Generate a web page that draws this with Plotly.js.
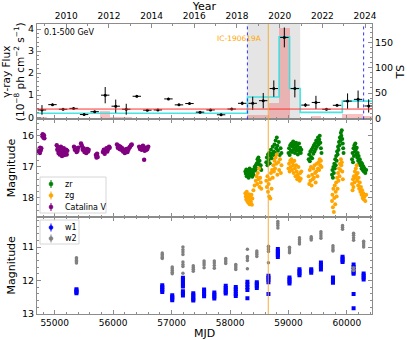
<!DOCTYPE html>
<html>
<head>
<meta charset="utf-8">
<script src="https://cdn.plot.ly/plotly-3.0.1.min.js"></script>
<style>html,body{margin:0;padding:0;background:#fff;}#chart{width:407px;height:340px;}</style>
</head>
<body>
<div id="chart"></div>
<script>
// ---------------- DATA ----------------
// Fermi-LAT 6-month bins (MJD centre, flux 1e-8 ph cm^-2 s^-1, 1-sigma error)
const fluxMjd = [54782,54962,55143,55323,55503,55684,55864,56044,56224,56405,56585,56765,56946,57126,57306,57487,
                 57667,57847,58028,58208,58388,58568,58749,58929,59109,59290,59470,59650,59831,60011,60191,60372];
const flux    = [0.33,0.57,0.36,0.40,0.12,0.25,1.00,0.50,0.36,0.95,0.32,0.33,0.83,0.56,0.62,0.23,
                 0.33,0.11,0.37,0.63,0.63,0.75,1.30,3.62,1.30,0.55,0.67,0.36,0.54,0.73,0.81,0.51];
const fluxErr = [0.22,0.05,0.05,0.05,0.05,0.05,0.37,0.30,0.25,0.05,0.05,0.05,0.05,0.05,0.05,0.05,
                 0.05,0.05,0.05,0.08,0.30,0.35,0.37,0.45,0.40,0.08,0.30,0.05,0.05,0.35,0.40,0.30];
const binHalfWidth = 72;   // days
// TS of bins (only bins where TS bar is visible)
const tsMjd = [54782,55864,56044,56224,58388,58568,58749,58929,59470,60011,60191,60372];
const tsVal = [3,14,2,2,6,6,31,180,5,8,8,5];
// Bayesian-block flux levels
const blockEdges = [54692,58298,58839,59019,59200,59921,60462];
const blockFlux  = [0.18,0.92,3.65,1.30,0.22,0.73];
const meanFlux = 0.37;
// time markers
const icMjd = 58654;              // IC-190619A
const windowStart = 58297, windowEnd = 59200;   // shaded window
const dashedMjd = [58297, 60286];

// ZTF zr
const zrMjd = [58262,58270,58278,58285,58292,58300,58310,58318,58326,58335,58343,58352,58360,58370,58380,58390,58400,58410,58420,58430,58440,58450,58460,58470,58478,58486,58495,58505,58515,58525,58535,
 58620,58630,58640,58650,58660,58670,58680,58690,58700,58710,58720,58730,58740,58750,58760,58770,58780,58790,58800,58810,58820,58835,58850,58865,58880,
 59000,59010,59020,59030,59040,59050,59060,59070,59080,59090,59100,59110,59120,59130,59140,59150,59160,59170,59180,59190,59200,59210,59220,
 59345,59355,59365,59375,59385,59395,59405,59415,59425,59435,59445,59455,59465,59475,59485,59495,59505,59515,59525,59535,59545,59555,59565,
 59745,59752,59760,59768,59776,59784,59792,59800,59808,59816,59824,59832,59840,59848,59856,59864,59872,59880,59888,59896,59904,59912,59920,59928,59936,59942,
 60088,60096,60104,60112,60120,60128,60136,60144,60152,60160,60168,60176,60184,60192,60200,60210,60220,60230,60240,60250,60260,60270,60280,60290,60300,60315,60330];
const zrMag = [17.15,17.22,17.08,17.30,17.18,17.25,17.12,17.35,17.20,17.05,17.28,17.15,17.22,17.10,17.32,17.18,17.25,17.08,17.00,17.12,16.95,17.05,16.88,16.75,16.85,16.70,16.92,16.80,17.05,16.95,17.10,
 16.85,16.70,16.95,16.60,16.78,16.55,16.88,16.65,16.45,16.72,16.58,16.35,16.62,16.50,16.28,16.55,16.15,16.40,16.05,16.32,16.48,16.20,16.62,16.40,16.55,
 16.55,16.40,16.62,16.30,16.48,16.25,16.52,16.35,16.18,16.45,16.28,16.55,16.38,16.22,16.48,16.32,16.60,16.42,16.25,16.50,16.38,16.55,16.45,
 16.75,16.60,16.82,16.50,16.68,16.45,16.72,16.38,16.58,16.30,16.50,16.25,16.42,16.15,16.35,16.20,16.05,16.28,16.12,16.00,16.22,16.40,16.55,
 17.25,17.10,17.35,17.00,17.20,16.90,17.05,16.75,16.95,16.65,16.80,16.50,16.60,16.35,16.45,16.20,16.30,16.05,16.15,15.90,16.00,15.82,16.10,16.25,16.40,16.55,
 16.75,16.55,16.85,16.40,16.65,16.30,16.50,16.25,16.45,16.60,16.38,16.70,16.55,16.80,16.65,16.90,16.75,16.95,16.85,17.05,16.90,17.10,16.98,17.15,17.05,17.20,17.10];
// ZTF zg
const zgMjd = [58262,58270,58278,58286,58294,58302,58310,58318,58326,58334,58342,58350,58358,58366,58374,58382,58400,58420,58440,58455,58465,58475,58485,58495,58505,58515,58525,58535,
 58620,58630,58640,58650,58660,58670,58680,58690,58700,58710,58720,58730,58740,58750,58760,58770,58780,58790,58800,58810,58825,58840,58855,58870,58880,
 59000,59010,59020,59030,59040,59050,59060,59070,59080,59090,59100,59110,59120,59130,59140,59150,59160,59170,59180,59190,59200,59210,59220,
 59345,59355,59365,59375,59385,59395,59405,59415,59425,59435,59445,59455,59465,59475,59485,59495,59505,59515,59525,59535,59545,59555,59565,
 59745,59752,59760,59768,59776,59784,59792,59800,59808,59816,59824,59832,59840,59848,59856,59864,59872,59880,59888,59896,59904,59912,59920,59930,
 60088,60096,60104,60112,60120,60128,60136,60144,60152,60160,60168,60176,60184,60192,60200,60210,60220,60230,60240,60250,60260,60270,60280,60290,60300,60315,60330];
const zgMag = [17.85,17.95,18.05,17.80,18.10,17.92,18.15,18.00,17.88,18.20,18.05,17.95,18.12,17.90,18.22,18.02,17.75,17.60,17.45,17.30,17.55,17.20,17.40,17.05,17.65,17.35,17.50,17.70,
 17.45,17.65,17.30,17.80,17.55,17.95,17.40,18.02,17.20,17.70,17.10,17.35,16.95,17.15,16.80,17.05,16.70,16.90,16.60,17.25,16.85,17.10,16.75,17.20,16.95,
 17.05,16.90,17.15,16.80,17.00,16.75,17.10,16.85,16.95,17.20,16.80,17.05,17.30,16.95,17.15,17.40,17.25,17.00,17.35,17.45,17.20,17.38,17.15,
 17.30,17.55,17.10,17.45,17.00,17.60,17.25,17.40,17.05,17.35,16.95,17.20,17.50,17.15,16.90,17.30,17.05,16.85,17.10,16.75,16.95,16.80,17.00,
 18.10,17.90,18.30,17.70,18.45,18.00,17.60,18.20,17.80,17.50,17.95,17.35,17.70,17.20,17.45,17.05,17.30,16.90,17.10,16.75,16.95,16.85,17.15,17.40,
 17.55,17.75,17.40,17.65,17.30,17.50,17.15,17.35,17.05,17.25,16.95,17.45,17.20,17.60,17.35,17.70,17.50,17.80,17.65,17.90,17.75,18.00,17.85,18.05,17.95,18.10,17.90];
// Catalina V
const crtsMjd = [54730,54738,54745,54752,54760,54770,54785,54795,54805,54815,54822,
 55035,55045,55055,55065,55075,55085,55095,55105,55115,55125,55135,55145,55155,55165,55175,55185,55195,55205,55215,
 55330,55345,55360,55375,55390,55405,55450,55465,55480,55495,55510,55525,55540,55555,55570,55580,
 55705,55715,55725,55735,55825,55840,55855,55870,55885,55900,55915,55930,55940,
 56065,56080,56095,56110,56125,56140,56155,56170,56185,56200,56215,56230,56245,56260,56275,56290,56305,56318,
 56445,56460,56475,56488,56510,56525,56540,56555,56570,56585,56600,56530];
const crtsMag = [16.50,16.42,16.55,16.38,16.47,16.40,16.00,15.95,16.05,15.98,16.08,
 16.30,16.45,16.38,16.55,16.42,16.60,16.48,16.35,16.52,16.65,16.45,16.58,16.40,16.62,16.50,16.55,16.45,16.60,16.48,
 16.35,16.45,16.40,16.52,16.48,16.38,16.25,16.32,16.45,16.40,16.52,16.48,16.55,16.42,16.50,16.45,
 16.62,16.70,16.58,16.68,16.52,16.45,16.58,16.48,16.40,16.50,16.42,16.35,16.38,
 16.28,16.38,16.32,16.42,16.35,16.45,16.40,16.50,16.45,16.55,16.48,16.42,16.52,16.45,16.38,16.35,16.30,16.28,
 16.35,16.42,16.38,16.45,16.32,16.40,16.48,16.38,16.45,16.42,16.35,16.77];
// WISE epochs and per-exposure magnitudes
const wiseEpoch = [55372,56840,57011,57194,57371,57556,57731,57926,58098,58297,58458,58657,58818,59017,59188,59389,59555,59761,59925,60114,60286];
const w1Mag = [[12.26,12.30,12.34,12.38],[12.14,12.19,12.24,12.29,12.34],[12.44,12.49,12.54,12.59],[11.92,11.98,12.05,12.12,12.18,12.32,12.38,12.45],
 [12.38,12.44,12.50,12.56,12.60],[12.27,12.33,12.40,12.47],[12.36,12.42,12.48,12.54],[12.16,12.22,12.28,12.34,12.39],[12.19,12.26,12.33,12.40,12.46],
 [12.04,12.12,12.20,12.28,12.53],[12.05,12.10,12.16,12.22],[11.86,11.92,11.98,12.05,12.40],[11.06,11.12,11.18,11.24,11.30],[11.91,11.97,12.03,12.09],
 [11.66,11.72,11.78,11.84],[11.66,11.71,11.77],[11.46,11.53,11.60,11.67],[11.91,11.97,12.03,12.07],[11.29,11.34,11.40,11.45],
 [11.52,11.60,11.68,11.76,11.80,12.40,12.83],[11.79,11.85,11.91,11.97]];
const w2Mag = [[11.32,11.36,11.40,11.44,11.48],[11.18,11.22,11.27,11.31,11.34],[11.60,11.65,11.70,11.75,11.80],[11.00,11.08,11.15,11.22,11.45,11.52,11.58,11.78],
 [11.56,11.61,11.66,11.72],[11.42,11.48,11.54,11.62],[11.42,11.48,11.55,11.63],[11.34,11.39,11.44,11.49],[11.52,11.57,11.62,11.67],
 [11.07,11.28,11.33,11.40,11.65],[11.12,11.17,11.22,11.28],[10.98,11.03,11.08,11.13,11.47],[10.24,10.30,10.36,10.43],[11.01,11.06,11.12,11.17],
 [10.72,10.78,10.85,10.91],[10.69,10.74,10.79],[10.54,10.60,10.67,10.74],[10.96,11.02,11.08,11.12],[10.36,10.41,10.47],
 [10.59,10.65,10.72,10.80,11.62,11.70],[10.83,10.88,10.94,11.00]];

// legend entries (label, colour)
const legend1 = [['zr','#008000'],['zg','#ffa500'],['Catalina V','#800080']];
const legend2 = [['w1','#0000ff'],['w2','#808080']];

// ---------------- BUILD ----------------
function flat(epochs, mags){ const x=[],y=[]; epochs.forEach((e,i)=>mags[i].forEach(m=>{x.push(e);y.push(m);})); return {x,y}; }
const w1 = flat(wiseEpoch, w1Mag), w2 = flat(wiseEpoch, w2Mag);
const mjdToYear = m => 2000 + (m - 51544.5)/365.25;

const W = 407, H = 340, ML = 37, MR = 35, MT = 24, MB = 26;
const PW = W - ML - MR, PH = H - MT - MB;
const px2x = p => (p - ML)/PW, px2y = p => (H - MB - p)/PH;

const MJD_RANGE = [54697, 60429];
const D1 = [0.671, 1], D2 = [0.336, 0.671], D3 = [0, 0.336];
const FRAME = '#8c8c8c';
const FONT = 'DejaVu Sans, sans-serif';

const traces = [
  {type:'bar', x: tsMjd, y: tsVal, width: 180, xaxis:'x', yaxis:'y',
   marker:{color:'rgba(240,110,110,0.42)', line:{width:0}}, showlegend:false, hoverinfo:'skip'},
  {type:'scatter', mode:'lines', x: blockEdges, y: blockFlux.concat([blockFlux[blockFlux.length-1]]),
   line:{shape:'hv', color:'rgba(40,225,225,0.85)', width:1.6}, xaxis:'x', yaxis:'y4', showlegend:false},
  {type:'scatter', mode:'markers', x: fluxMjd, y: flux, xaxis:'x', yaxis:'y4',
   marker:{color:'#000', size:3},
   error_y:{type:'data', array: fluxErr, color:'#000', thickness:1, width:0},
   error_x:{type:'constant', value: binHalfWidth, color:'#000', thickness:1, width:0}, showlegend:false},
  // empty trace so the top Year axis is drawn
  {type:'scatter', mode:'markers', x: [], y: [], xaxis:'x4', yaxis:'y', showlegend:false},
  {type:'scatter', mode:'markers', name:'zr', x: zrMjd, y: zrMag, xaxis:'x2', yaxis:'y2', showlegend:false,
   marker:{color:'#008000', size:4}, error_y:{type:'constant', value:0.03, color:'#008000', thickness:1, width:0}},
  {type:'scatter', mode:'markers', name:'zg', x: zgMjd, y: zgMag, xaxis:'x2', yaxis:'y2', showlegend:false,
   marker:{color:'#ffa500', size:4}, error_y:{type:'constant', value:0.04, color:'#ffa500', thickness:1, width:0}},
  {type:'scatter', mode:'markers', name:'Catalina V', x: crtsMjd, y: crtsMag, xaxis:'x2', yaxis:'y2', showlegend:false,
   marker:{color:'#800080', size:4.5}, error_y:{type:'constant', value:0.05, color:'#800080', thickness:1, width:0}},
  {type:'scatter', mode:'markers', name:'w1', x: w1.x, y: w1.y, xaxis:'x3', yaxis:'y3', showlegend:false,
   marker:{color:'#0000ff', size:4, symbol:'square'}, error_y:{type:'constant', value:0.03, color:'#0000ff', thickness:1, width:0}},
  {type:'scatter', mode:'markers', name:'w2', x: w2.x, y: w2.y, xaxis:'x3', yaxis:'y3', showlegend:false,
   marker:{color:'#808080', size:3.5}, error_y:{type:'constant', value:0.03, color:'#808080', thickness:1, width:0}}
];

const xBase = {range: MJD_RANGE, showgrid:false, zeroline:false, showline:true, linecolor:FRAME, linewidth:1,
  ticks:'inside', ticklen:4, tickcolor:FRAME, dtick:1000, tick0:55000, tickformat:'d',
  minor:{ticks:'inside', ticklen:2, dtick:200, tickcolor:FRAME}, tickfont:{size:9, color:'#000'}};
const yBase = {showgrid:false, zeroline:false, showline:true, linecolor:FRAME, linewidth:1,
  ticks:'inside', ticklen:4, tickcolor:FRAME, tickfont:{size:9.5, color:'#000'}};

// custom legends: boxes, markers, labels
const shapes = [
  {type:'rect', xref:'x', yref:'y domain', x0:windowStart, x1:windowEnd, y0:0, y1:1,
   fillcolor:'rgba(150,150,150,0.25)', line:{width:0}, layer:'below'},
  {type:'line', xref:'x', yref:'y domain', x0:dashedMjd[0], x1:dashedMjd[0], y0:0, y1:1,
   line:{color:'#3030ff', width:1, dash:'dot'}},
  {type:'line', xref:'x', yref:'y domain', x0:dashedMjd[1], x1:dashedMjd[1], y0:0, y1:1,
   line:{color:'#3030ff', width:1, dash:'dot'}},
  {type:'line', xref:'paper', yref:'y4', x0:0, x1:1, y0:meanFlux, y1:meanFlux,
   line:{color:'#ff3030', width:1}},
  {type:'line', xref:'x', yref:'paper', x0:icMjd, x1:icMjd, y0:0, y1:1,
   line:{color:'rgba(245,165,40,0.9)', width:1}},
  {type:'rect', xref:'paper', yref:'paper', x0:px2x(40), x1:px2x(106), y0:px2y(213), y1:px2y(177),
   fillcolor:'rgba(255,255,255,0.85)', line:{color:'#d6d6d6', width:1}},
  {type:'rect', xref:'paper', yref:'paper', x0:px2x(40), x1:px2x(79), y0:px2y(244), y1:px2y(220),
   fillcolor:'rgba(255,255,255,0.85)', line:{color:'#d6d6d6', width:1}}
];
const annotations = [
  {xref:'paper', yref:'paper', x:px2x(42), y:px2y(32), xanchor:'left', yanchor:'middle', showarrow:false,
   text:'0.1-500 GeV', font:{size:8, color:'#000'}},
  {xref:'paper', yref:'paper', x:px2x(263), y:px2y(38), xanchor:'right', yanchor:'middle', showarrow:false,
   borderpad:0, text:'IC-190619A', font:{size:7.5, color:'#ffa500'}}
];
function addLegend(entries, topPx, stepPx){
  entries.forEach((e, i) => {
    const cy = px2y(topPx + i*stepPx), cx = px2x(51);
    shapes.push({type:'line', xref:'paper', yref:'paper', xsizemode:'pixel', ysizemode:'pixel',
      xanchor:cx, yanchor:cy, x0:0, x1:0, y0:-4, y1:4, line:{color:e[1], width:1}});
    shapes.push({type:'circle', xref:'paper', yref:'paper', xsizemode:'pixel', ysizemode:'pixel',
      xanchor:cx, yanchor:cy, x0:-2, x1:2, y0:-2, y1:2, fillcolor:e[1], line:{color:e[1], width:0.5}});
    annotations.push({xref:'paper', yref:'paper', x:px2x(63), y:cy, xanchor:'left', yanchor:'middle',
      showarrow:false, text:e[0], font:{size:8, color:'#000'}});
  });
}
addLegend(legend1, 184, 11.5);
addLegend(legend2, 227.5, 11);

const layout = {
  width:W, height:H, margin:{l:ML, r:MR, t:MT, b:MB},
  paper_bgcolor:'#fff', plot_bgcolor:'#fff', font:{family:FONT, color:'#000'},
  showlegend:false, bargap:0,
  xaxis: Object.assign({}, xBase, {anchor:'y', domain:[0,1], showticklabels:false}),
  xaxis2: Object.assign({}, xBase, {anchor:'y2', domain:[0,1], showticklabels:false, mirror:'ticks'}),
  xaxis3: Object.assign({}, xBase, {anchor:'y3', domain:[0,1], mirror:'ticks',
     title:{text:'MJD', font:{size:11}, standoff:2}}),
  xaxis4: {overlaying:'x', anchor:'y', side:'top', range: MJD_RANGE.map(mjdToYear), dtick:2, tick0:2010,
     showgrid:false, zeroline:false, showline:true, linecolor:FRAME, ticks:'inside', ticklen:4, tickcolor:FRAME,
     minor:{ticks:'inside', ticklen:2, dtick:1, tickcolor:FRAME}, tickformat:'d',
     tickfont:{size:9}, title:{text:'Year', font:{size:11}, standoff:0}},
  yaxis: Object.assign({}, yBase, {domain:D1, anchor:'x', side:'right', range:[-2.4, 187], dtick:50,
     minor:{ticks:'inside', ticklen:2, dtick:10, tickcolor:FRAME},
     title:{text:'TS', font:{size:11}, standoff:4}}),
  yaxis4: Object.assign({}, yBase, {overlaying:'y', anchor:'x', side:'left', range:[-0.10, 4.23], dtick:1,
     minor:{ticks:'inside', ticklen:2, dtick:0.2, tickcolor:FRAME},
     title:{text:'γ-ray Flux<br>(10<sup>−8</sup> ph cm<sup>−2</sup> s<sup>−1</sup>)', font:{size:10.5}, standoff:2}}),
  yaxis2: Object.assign({}, yBase, {domain:D2, anchor:'x2', range:[18.6, 15.47], dtick:1, mirror:'ticks',
     minor:{ticks:'inside', ticklen:2, dtick:0.2, tickcolor:FRAME},
     title:{text:'Magnitude', font:{size:11}, standoff:4}}),
  yaxis3: Object.assign({}, yBase, {domain:D3, anchor:'x3', range:[13, 10.09], dtick:1, mirror:'ticks',
     minor:{ticks:'inside', ticklen:2, dtick:0.2, tickcolor:FRAME},
     title:{text:'Magnitude', font:{size:11}, standoff:4}}),
  shapes: shapes,
  annotations: annotations
};

Plotly.newPlot('chart', traces, layout, {displayModeBar:false, staticPlot:true});
</script>
</body>
</html>
